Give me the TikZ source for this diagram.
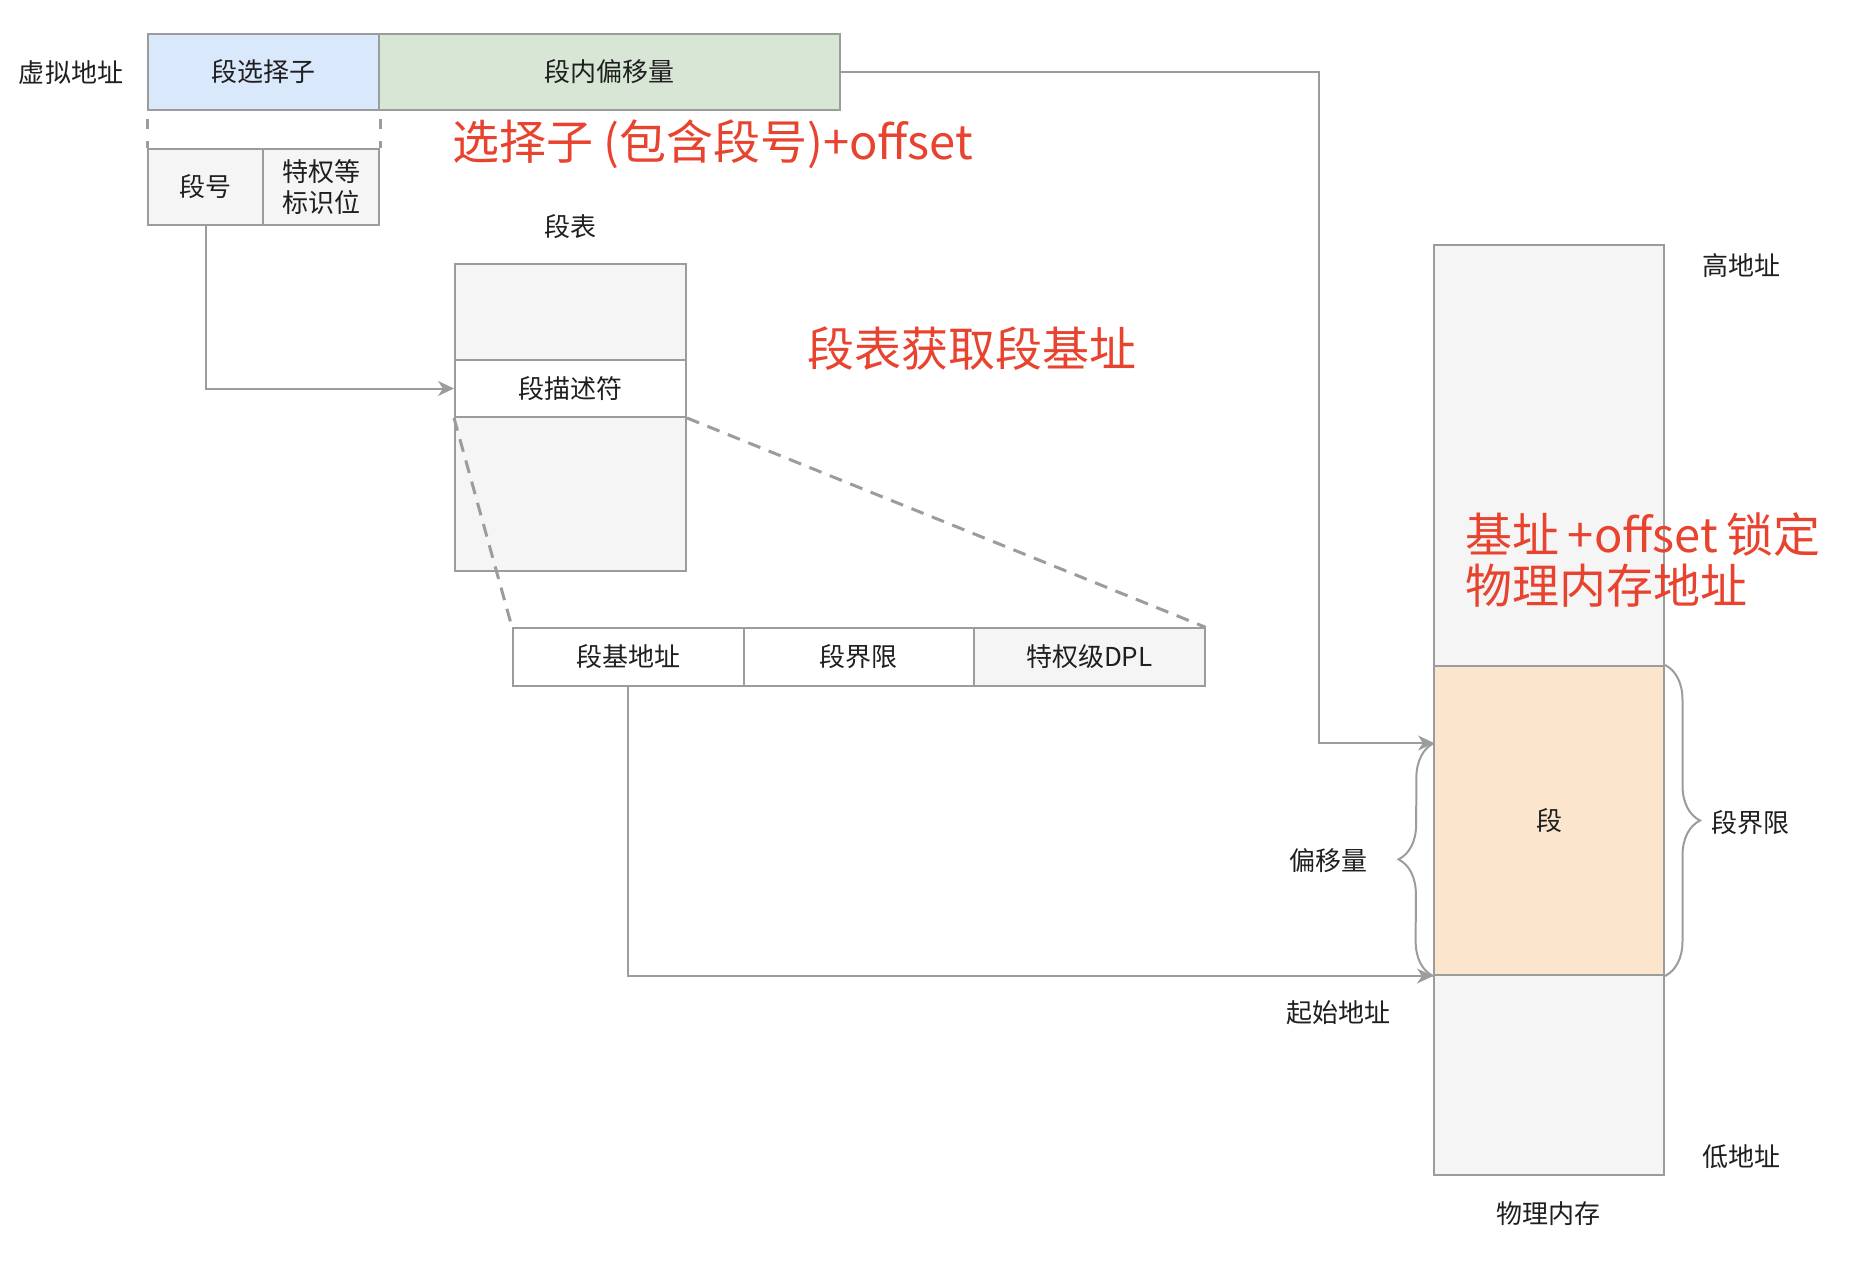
\documentclass[tikz,border=0pt]{standalone}
\usepackage{fontspec}
\setmainfont{Noto Sans CJK SC}
\usetikzlibrary{arrows.meta, decorations.pathreplacing}
\definecolor{linegray}{HTML}{9C9C9C}
\definecolor{cellgray}{HTML}{F5F5F5}
\definecolor{selblue}{HTML}{DAE8FC}
\definecolor{offgreen}{HTML}{D8E7D5}
\definecolor{segorange}{HTML}{FBE5CD}
\definecolor{notered}{HTML}{E8432E}
\definecolor{txtblack}{HTML}{1F1F1F}

\begin{document}
\begin{tikzpicture}[x=1pt, y=-1pt, line width=2pt,
	lbl/.style = {font=\fontsize{26}{31}\selectfont, text=txtblack, inner sep=0pt},
	cell/.style = {draw=linegray, fill=cellgray, rectangle, lbl},
	note/.style = {text=notered, font=\fontsize{47}{51}\selectfont, inner sep=0pt, align=left, anchor=west},
	arr/.style = {draw=linegray, -{Stealth[length=16pt, width=15pt, inset=5pt]}},
	dashline/.style = {draw=linegray, line width=3pt, dash pattern=on 10pt off 12pt, dash phase=14pt},
	slant/.style = {draw=linegray, line width=3pt, dash pattern=on 13pt off 9pt},
	curly/.style = {draw=linegray, decorate, decoration={brace, amplitude=35pt}}]
		\fill[white] (0,0) rectangle (1860,1272);
		\useasboundingbox (0,0) rectangle (1860,1272);
		
		\node[lbl] (va) at (71,73) {虚拟地址};
		\node[cell, fill=selblue, minimum width=231pt, minimum height=76pt] (sel) at (263.5,72) {段选择子};
		\node[cell, fill=offgreen, minimum width=461pt, minimum height=76pt] (off) at (609.5,72) {段内偏移量};
		\node[cell, minimum width=115pt, minimum height=76pt] (segno) at (205.5,187) {段号};
		\node[cell, minimum width=116pt, minimum height=76pt, align=center] (priv) at (321,187) {特权等\\标识位};
		
		\node[lbl] (tab) at (570,227) {段表};
		\node[cell, minimum width=231pt, minimum height=96pt] (t1) at (570.5,312) {};
		\node[cell, fill=white, minimum width=231pt, minimum height=57pt] (desc) at (570.5,388.5) {段描述符};
		\node[cell, minimum width=231pt, minimum height=154pt] (t2) at (570.5,494) {};
		
		\node[cell, fill=white, minimum width=230.5pt, minimum height=57.5pt] (base) at (628.25,657) {段基地址};
		\node[cell, fill=white, minimum width=230.5pt, minimum height=57.5pt] (lim) at (858.75,657) {段界限};
		\node[cell, minimum width=230.5pt, minimum height=57.5pt] (dpl) at (1089.25,657) {特权级DPL};
		
		\node[cell, minimum width=230pt, minimum height=421.4pt] (mtop) at (1549,455.3) {};
		\node[cell, fill=segorange, minimum width=230pt, minimum height=309pt] (segm) at (1549,820.5) {段};
		\node[cell, minimum width=230pt, minimum height=200pt] (mbot) at (1549,1075) {};
		\coordinate (offin) at (1434,743);
		
		\node[lbl] (high) at (1741,266) {高地址};
		\node[lbl] (limlbl) at (1750,823) {段界限};
		\node[lbl] (offlbl) at (1328,861) {偏移量};
		\node[lbl] (start) at (1338,1013) {起始地址};
		\node[lbl] (low) at (1741,1157) {低地址};
		\node[lbl] (mem) at (1548,1214) {物理内存};
		
		\node[note] (n1) at (451,144) {选择子 (包含段号)+offset};
		\node[note] (n2) at (806,349) {段表获取段基址};
		\node[note] (n3) at (1464,560.5) {基址\hspace{9pt}+offset\hspace{9pt}锁定\\物理内存地址};
		
		\draw[dashline] (sel.south west) -- (segno.north west);
		\draw[dashline] (sel.south east) -- (priv.north east);
		\draw[slant] (desc.south west) -- (base.north west);
		\draw[slant] (desc.south east) -- (dpl.north east);
		
		\draw[arr] (segno.south) |- (desc.west);
		\draw[arr] (off.east) -| (1319,743) -- (offin);
		\draw[arr] (base.south) |- (segm.south west);
		
		\draw[curly] (segm.south west) -- (offin);
		\draw[curly] (segm.north east) -- (segm.south east);
	\end{tikzpicture}
\end{document}
